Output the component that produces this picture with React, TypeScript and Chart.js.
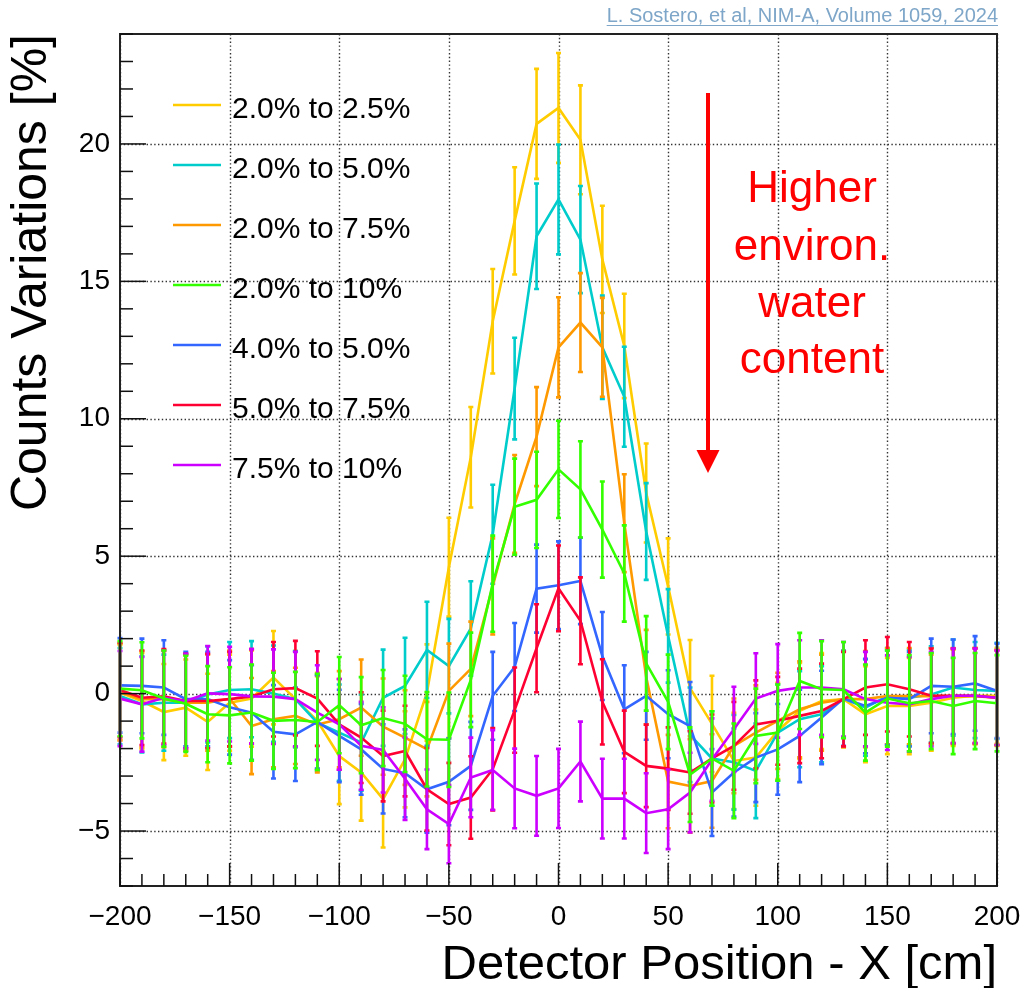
import React, { useEffect, useRef } from "react";
import { Chart, registerables } from "chart.js";

Chart.register(...registerables);

// ---------------- data ----------------
const X_POS = [-200, -190, -180, -170, -160, -150, -140, -130, -120, -110, -100, -90, -80, -70, -60, -50, -40, -30, -20, -10, 0, 10, 20, 30, 40, 50, 60, 70, 80, 90, 100, 110, 120, 130, 140, 150, 160, 170, 180, 190, 200];

const V_20_25 = [0.04, -0.27, -0.67, -0.51, -1.03, -0.33, -0.18, 0.58, -0.2, -0.99, -2.27, -2.87, -3.84, -2.39, 0.04, 4.6, 8.6, 13.55, 17.2, 20.73, 21.31, 20.15, 15.8, 12.65, 7.3, 3.9, 0.2, -1.1, -2.45, -2.33, -1.36, -0.63, -0.27, -0.2, -0.75, -0.45, -0.45, -0.33, -0.15, -0.08, -0.08];
const E_20_25 = [1.75, 1.75, 1.75, 1.75, 1.75, 1.75, 1.75, 1.7, 1.75, 1.75, 1.75, 1.75, 1.76, 1.75, 1.75, 1.8, 1.83, 1.9, 1.95, 2.0, 2.0, 1.98, 1.95, 1.9, 1.8, 1.75, 1.75, 1.75, 1.75, 1.75, 1.75, 1.75, 1.75, 1.75, 1.75, 1.75, 1.75, 1.75, 1.75, 1.75, 1.75];

const V_20_50 = [-0.09, -0.39, -0.33, -0.33, -0.03, 0.13, 0.16, 0.0, -0.2, -1.06, -1.42, -1.78, -0.15, 0.28, 1.59, 1.0, 2.37, 5.8, 11.1, 16.64, 17.98, 16.52, 12.6, 10.8, 5.9, 2.1, -1.5, -2.36, -2.5, -2.81, -1.42, -0.93, -0.75, -0.18, -0.51, -0.09, -0.15, -0.03, 0.22, 0.13, 0.1];
const E_20_50 = [1.75, 1.75, 1.75, 1.75, 1.75, 1.75, 1.75, 1.75, 1.75, 1.75, 1.75, 1.75, 1.75, 1.75, 1.75, 1.72, 1.72, 1.8, 1.85, 1.92, 2.0, 1.95, 1.88, 1.82, 1.76, 1.7, 1.72, 1.72, 1.72, 1.72, 1.75, 1.75, 1.75, 1.75, 1.75, 1.75, 1.75, 1.75, 1.75, 1.75, 1.75];

const V_20_75 = [0.06, -0.2, -0.2, -0.33, -0.33, -0.18, -1.18, -0.93, -0.81, -1.12, -0.93, -0.51, -1.2, -1.6, -2.02, 0.1, 0.9, 3.9, 6.9, 9.35, 12.6, 13.5, 12.6, 6.2, 0.6, -3.2, -3.36, -3.18, -1.9, -1.42, -0.99, -0.57, -0.33, -0.2, -0.2, -0.09, -0.09, -0.09, -0.09, -0.09, -0.15];
const E_20_75 = [1.75, 1.75, 1.75, 1.75, 1.75, 1.75, 1.75, 1.75, 1.75, 1.75, 1.75, 1.75, 1.75, 1.72, 1.72, 1.72, 1.72, 1.75, 1.78, 1.8, 1.82, 1.8, 1.8, 1.78, 1.72, 1.7, 1.7, 1.7, 1.72, 1.72, 1.75, 1.75, 1.75, 1.75, 1.75, 1.75, 1.75, 1.75, 1.75, 1.75, 1.75];

const V_20_100 = [0.18, 0.12, -0.18, -0.37, -0.75, -0.79, -0.69, -0.99, -0.96, -1.03, -0.42, -1.15, -0.89, -1.1, -1.66, -1.68, 0.5, 4.0, 6.8, 7.05, 8.16, 7.43, 5.97, 4.37, 1.1, -0.3, -2.95, -2.36, -2.81, -1.54, -1.42, 0.46, 0.16, 0.13, -0.69, -0.18, -0.35, -0.27, -0.45, -0.27, -0.35];
const E_20_100 = [1.73, 1.75, 1.75, 1.75, 1.75, 1.75, 1.75, 1.75, 1.75, 1.75, 1.75, 1.75, 1.75, 1.75, 1.72, 1.72, 1.72, 1.75, 1.75, 1.75, 1.77, 1.75, 1.75, 1.75, 1.72, 1.72, 1.72, 1.72, 1.72, 1.72, 1.75, 1.75, 1.75, 1.75, 1.75, 1.75, 1.75, 1.75, 1.75, 1.75, 1.75];

const V_40_50 = [0.3, 0.28, 0.22, -0.2, -0.2, -0.5, -0.69, -1.39, -1.48, -1.03, -1.54, -2.03, -2.74, -2.9, -3.48, -3.21, -2.63, -0.08, 0.97, 3.82, 3.94, 4.1, 1.37, -0.57, -0.08, -0.75, -1.18, -3.6, -2.87, -2.33, -2.03, -1.54, -0.87, -0.18, -0.45, -0.15, -0.2, 0.28, 0.25, 0.37, 0.1];
const E_40_50 = [1.72, 1.72, 1.72, 1.72, 1.72, 1.72, 1.72, 1.7, 1.7, 1.7, 1.68, 1.65, 1.62, 1.6, 1.58, 1.58, 1.6, 1.6, 1.6, 1.6, 1.6, 1.57, 1.6, 1.6, 1.6, 1.6, 1.6, 1.58, 1.6, 1.62, 1.65, 1.68, 1.7, 1.72, 1.72, 1.72, 1.72, 1.72, 1.72, 1.72, 1.72];

const V_50_75 = [0.13, -0.15, -0.1, -0.27, -0.27, -0.2, -0.1, 0.16, 0.2, -0.18, -1.12, -1.6, -2.27, -2.09, -3.48, -4.02, -3.78, -2.75, -0.6, 1.65, 3.83, 2.65, -0.3, -2.12, -2.63, -2.73, -2.87, -2.36, -1.9, -1.12, -0.99, -0.81, -0.63, -0.2, 0.22, 0.34, 0.16, -0.08, -0.08, -0.08, -0.15];
const E_50_75 = [1.72, 1.72, 1.72, 1.72, 1.72, 1.72, 1.72, 1.72, 1.72, 1.72, 1.65, 1.65, 1.65, 1.65, 1.5, 1.5, 1.5, 1.5, 1.55, 1.6, 1.56, 1.58, 1.55, 1.5, 1.5, 1.5, 1.5, 1.6, 1.6, 1.6, 1.6, 1.72, 1.72, 1.72, 1.72, 1.72, 1.72, 1.72, 1.72, 1.72, 1.72];

const V_75_100 = [-0.18, -0.39, -0.15, -0.27, 0.01, -0.02, -0.1, -0.11, -0.2, -0.69, -1.12, -1.9, -2.05, -3.1, -4.21, -4.75, -3.05, -2.78, -3.45, -3.72, -3.45, -2.47, -3.82, -3.82, -4.35, -4.21, -3.6, -2.4, -1.3, -0.18, 0.1, 0.22, 0.22, 0.16, -0.2, -0.33, -0.39, -0.2, -0.08, -0.08, -0.15];
const E_75_100 = [1.73, 1.72, 1.72, 1.72, 1.72, 1.72, 1.72, 1.72, 1.72, 1.72, 1.65, 1.6, 1.55, 1.5, 1.45, 1.42, 1.45, 1.45, 1.45, 1.45, 1.44, 1.45, 1.45, 1.45, 1.45, 1.45, 1.45, 1.5, 1.55, 1.65, 1.7, 1.72, 1.72, 1.72, 1.72, 1.72, 1.72, 1.72, 1.72, 1.72, 1.72];

const SERIES_LABELS = ["2.0% to 2.5%", "2.0% to 5.0%", "2.0% to 7.5%", "2.0% to 10%", "4.0% to 5.0%", "5.0% to 7.5%", "7.5% to 10%"];
const SERIES_COLORS = ["#ffcc00", "#00cccc", "#ff9900", "#33ff00", "#3366ff", "#ff0033", "#cc00ff"];
const SERIES_VALUES = [V_20_25, V_20_50, V_20_75, V_20_100, V_40_50, V_50_75, V_75_100];
const SERIES_ERRORS = [E_20_25, E_20_50, E_20_75, E_20_100, E_40_50, E_50_75, E_75_100];
const SERIES_DRAW_ORDER = [6, 5, 4, 0, 3, 2, 1];

const X_TICKS = [-200, -150, -100, -50, 0, 50, 100, 150, 200];
const Y_TICKS = [-5, 0, 5, 10, 15, 20];
const X_RANGE = [-200, 200];
const Y_RANGE = [-7, 24];

const X_TITLE = "Detector Position - X [cm]";
const Y_TITLE = "Counts Variations [%]";
const NOTE_LINES = ["Higher", "environ.", "water", "content"];
const CITATION = "L. Sostero, et al, NIM-A, Volume 1059, 2024";

const FONT = "'Liberation Sans', Arial, Helvetica, sans-serif";

const fmt = (v: number) => (v < 0 ? "\u2212" + Math.abs(v) : String(v));

const decorPlugin = {
  id: "rootDecor",
  beforeDatasetsDraw(chart: any) {
    const { ctx, chartArea: a, scales } = chart;
    const xs = scales.x, ys = scales.y;
    ctx.save();
    ctx.strokeStyle = "#333";
    ctx.lineWidth = 1.4;
    ctx.setLineDash([1.4, 2.4]);
    X_TICKS.forEach((v) => {
      const px = Math.round(xs.getPixelForValue(v)) + 0.5;
      ctx.beginPath();
      ctx.moveTo(px, a.top);
      ctx.lineTo(px, a.bottom);
      ctx.stroke();
    });
    Y_TICKS.forEach((v) => {
      const py = Math.round(ys.getPixelForValue(v)) + 0.5;
      ctx.beginPath();
      ctx.moveTo(a.left, py);
      ctx.lineTo(a.right, py);
      ctx.stroke();
    });
    ctx.restore();
  },
  afterDatasetDraw(chart: any, args: any) {
    const ds = chart.data.datasets[args.index];
    const errs = ds.errors as number[];
    if (!errs) return;
    const { ctx, scales } = chart;
    const xs = scales.x, ys = scales.y;
    ctx.save();
    ctx.strokeStyle = ds.borderColor;
    ctx.lineWidth = 2.6;
    ctx.lineCap = "butt";
    ds.data.forEach((p: any, i: number) => {
      const px = xs.getPixelForValue(p.x);
      const y1 = ys.getPixelForValue(p.y + errs[i]);
      const y2 = ys.getPixelForValue(p.y - errs[i]);
      ctx.beginPath();
      ctx.moveTo(px, y1);
      ctx.lineTo(px, y2);
      ctx.moveTo(px - 2.5, y1);
      ctx.lineTo(px + 2.5, y1);
      ctx.moveTo(px - 2.5, y2);
      ctx.lineTo(px + 2.5, y2);
      ctx.stroke();
    });
    ctx.restore();
  },
  afterDraw(chart: any) {
    const { ctx, chartArea: a, scales } = chart;
    const xs = scales.x, ys = scales.y;
    ctx.save();
    // frame
    ctx.strokeStyle = "#222";
    ctx.lineWidth = 2;
    ctx.strokeRect(a.left, a.top, a.right - a.left, a.bottom - a.top);
    // inward ticks
    ctx.lineWidth = 1.5;
    ctx.strokeStyle = "#111";
    for (let v = X_RANGE[0]; v <= X_RANGE[1]; v += 10) {
      const px = xs.getPixelForValue(v);
      const len = v % 50 === 0 ? 23 : 12;
      ctx.beginPath();
      ctx.moveTo(px, a.bottom);
      ctx.lineTo(px, a.bottom - len);
      ctx.stroke();
    }
    for (let v = Y_RANGE[0]; v <= Y_RANGE[1]; v += 1) {
      const py = ys.getPixelForValue(v);
      const len = v % 5 === 0 ? 26 : 13;
      ctx.beginPath();
      ctx.moveTo(a.left, py);
      ctx.lineTo(a.left + len, py);
      ctx.stroke();
    }
    // axis titles
    ctx.fillStyle = "#000";
    ctx.font = `49px ${FONT}`;
    ctx.textAlign = "right";
    ctx.textBaseline = "alphabetic";
    ctx.fillText(X_TITLE, a.right, 979);
    ctx.save();
    ctx.font = `50px ${FONT}`;
    ctx.translate(46, a.top);
    ctx.rotate(-Math.PI / 2);
    ctx.textAlign = "right";
    ctx.fillText(Y_TITLE, 0, 0);
    ctx.restore();
    // legend
    ctx.font = `30px ${FONT}`;
    ctx.textAlign = "left";
    SERIES_LABELS.forEach((lab, i) => {
      const ly = 105 + i * 60;
      ctx.strokeStyle = SERIES_COLORS[i];
      ctx.lineWidth = 2.7;
      ctx.beginPath();
      ctx.moveTo(173, ly);
      ctx.lineTo(221, ly);
      ctx.stroke();
      ctx.fillStyle = "#000";
      ctx.fillText(lab, 232, ly + 13);
    });
    // annotation arrow
    ctx.strokeStyle = "#ff0000";
    ctx.fillStyle = "#ff0000";
    ctx.lineWidth = 4;
    ctx.beginPath();
    ctx.moveTo(708, 93);
    ctx.lineTo(708, 455);
    ctx.stroke();
    ctx.beginPath();
    ctx.moveTo(696.5, 450);
    ctx.lineTo(719.5, 450);
    ctx.lineTo(708, 473);
    ctx.closePath();
    ctx.fill();
    // annotation text
    ctx.font = `44px ${FONT}`;
    ctx.textAlign = "center";
    const baselines = [202, 260, 317, 373];
    NOTE_LINES.forEach((t, i) => ctx.fillText(t, 812, baselines[i]));
    // citation
    ctx.font = `20px ${FONT}`;
    ctx.fillStyle = "#7ea6c8";
    ctx.strokeStyle = "#7ea6c8";
    ctx.textAlign = "right";
    const w = ctx.measureText(CITATION).width;
    ctx.fillText(CITATION, 998, 22);
    ctx.lineWidth = 1.2;
    ctx.beginPath();
    ctx.moveTo(998 - w, 25.5);
    ctx.lineTo(998, 25.5);
    ctx.stroke();
    ctx.restore();
  },
};

export default function App() {
  const ref = useRef<HTMLCanvasElement | null>(null);

  useEffect(() => {
    document.body.style.margin = "0";
    const canvas = ref.current;
    if (!canvas) return;
    const datasets = SERIES_LABELS.map((label, s) => ({
      label,
      data: X_POS.map((x, i) => ({ x, y: SERIES_VALUES[s][i] })),
      errors: SERIES_ERRORS[s],
      borderColor: SERIES_COLORS[s],
      backgroundColor: SERIES_COLORS[s],
      borderWidth: 2.6,
      pointRadius: 0,
      tension: 0,
      fill: false,
      order: SERIES_DRAW_ORDER[s],
    }));
    const chart = new Chart(canvas, {
      type: "line",
      data: { datasets } as any,
      plugins: [decorPlugin],
      options: {
        responsive: false,
        animation: false,
        devicePixelRatio: 1,
        layout: { padding: { top: 34, right: 28, left: 0, bottom: 0 } },
        plugins: { legend: { display: false }, tooltip: { enabled: false } },
        scales: {
          x: {
            type: "linear",
            min: X_RANGE[0],
            max: X_RANGE[1],
            afterFit: (s: any) => {
              s.height = 102;
              s.paddingLeft = 0;
              s.paddingRight = 0;
            },
            afterBuildTicks: (s: any) => {
              s.ticks = X_TICKS.map((v) => ({ value: v }));
            },
            grid: { display: false, drawTicks: false },
            border: { display: false },
            ticks: {
              font: { size: 28, family: FONT },
              color: "#000",
              padding: 14,
              maxRotation: 0,
              autoSkip: false,
              callback: (v: any) => fmt(Number(v)),
            },
          },
          y: {
            type: "linear",
            min: Y_RANGE[0],
            max: Y_RANGE[1],
            afterFit: (s: any) => {
              s.width = 120;
              s.paddingTop = 0;
              s.paddingBottom = 0;
            },
            afterBuildTicks: (s: any) => {
              s.ticks = Y_TICKS.map((v) => ({ value: v }));
            },
            grid: { display: false, drawTicks: false },
            border: { display: false },
            ticks: {
              font: { size: 28, family: FONT },
              color: "#000",
              padding: 10,
              autoSkip: false,
              callback: (v: any) => fmt(Number(v)),
            },
          },
        },
      } as any,
    });
    return () => chart.destroy();
  }, []);

  return (
    <div style={{ width: 1025, height: 988, position: "relative", background: "#fff" }}>
      <canvas ref={ref} width={1025} height={988} style={{ display: "block" }} />
    </div>
  );
}
